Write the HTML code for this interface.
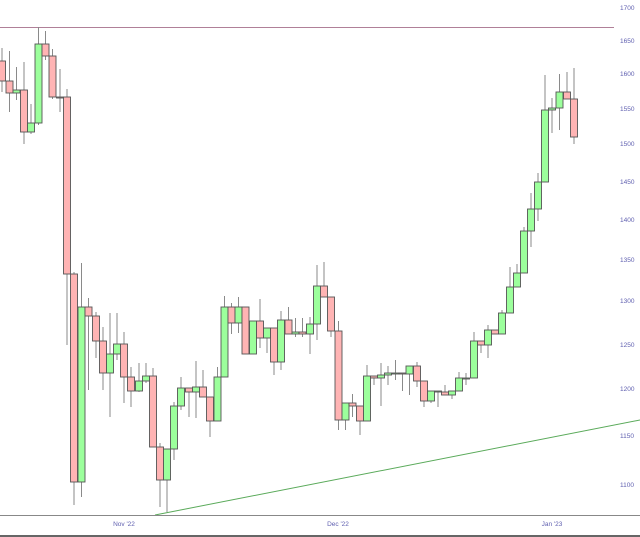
<!DOCTYPE html>
<html><head><meta charset="utf-8"><style>
html,body{margin:0;padding:0;background:#fff;}
svg{display:block;}
text{font-family:"Liberation Sans",sans-serif;font-size:6.5px;fill:#6060b0;}
</style></head><body>
<svg id="c" width="640" height="537" xmlns="http://www.w3.org/2000/svg">
<rect width="640" height="537" fill="#fff"/>
<line x1="0" y1="27.5" x2="614" y2="27.5" stroke="#b08098" stroke-width="1"/>
<g id="cs"></g>
<line x1="155" y1="515" x2="640" y2="420" stroke="#5aaa5a" stroke-width="1"/>
<line x1="0" y1="515.5" x2="640" y2="515.5" stroke="#888" stroke-width="1"/>
<line x1="0" y1="536" x2="640" y2="536" stroke="#333" stroke-width="1.5"/>
<text x="620" y="10">1700</text>
<text x="620" y="43">1650</text>
<text x="620" y="76">1600</text>
<text x="620" y="111">1550</text>
<text x="620" y="146">1500</text>
<text x="620" y="184">1450</text>
<text x="620" y="222">1400</text>
<text x="620" y="262">1350</text>
<text x="620" y="303">1300</text>
<text x="620" y="347">1250</text>
<text x="620" y="391">1200</text>
<text x="620" y="438">1150</text>
<text x="620" y="487">1100</text>
<text x="124" y="526" text-anchor="middle">Nov '22</text>
<text x="338" y="526" text-anchor="middle">Dec '22</text>
<text x="552" y="526" text-anchor="middle">Jan '23</text>
</svg>
<script>
var d=[
[2,61,81,48,92,'r'],[9.5,81,93,51,112,'r'],[16.5,90,93,67,100,'g'],[24,90,132,62,144,'r'],[31,123,132,104,134,'g'],
[38.5,44,123,27,125,'g'],[45.5,44,56,31,60,'r'],[52.5,56,97,49,99,'r'],[60,97,98,69,112,'r'],[67,97,274,89,345,'r'],
[74,274,482,272,505,'r'],[81.5,307,482,263,497,'g'],[88.5,307,316,298,390,'r'],[96,316,341,312,358,'r'],[103,341,373,327,390,'r'],
[110,354,373,313,417,'g'],[117,344,354,313,360,'g'],[124,344,377,332,403,'r'],[131,377,391,367,407,'r'],[139,381,391,363,392,'g'],
[146,376,381,363,383,'g'],[153,376,447,368,447,'r'],[160,447,480,443,507,'r'],[167,449,480,449,512,'g'],[174,406,449,402,460,'g'],
[181,388,406,377,410,'g'],[189,388,392,388,417,'r'],[196,387,392,361,418,'g'],[203,387,397,370,397,'r'],[210,397,421,397,437,'r'],
[217.5,377,421,367,421,'g'],[224.5,307,377,296,377,'g'],[231.5,307,323,303,334,'r'],[238.5,307,323,297,333,'g'],[245.5,307,354,307,354,'r'],
[253,321,354,321,354,'g'],[260,321,338,299,348,'r'],[267,328,338,328,353,'g'],[274,328,362,328,375,'r'],[281,320,362,311,370,'g'],
[288.5,320,334,307,334,'r'],[295.5,332,334,318,337,'g'],[302.5,332,334,318,337,'r'],[310,324,334,317,354,'g'],[317,286,324,265,340,'g'],
[324,286,297,262,297,'r'],[331,297,331,297,337,'r'],[338.5,331,420,321,430,'r'],[345.5,403,420,403,430,'g'],[352.5,403,406,394,417,'r'],
[360,406,421,406,435,'r'],[367,376,421,365,421,'g'],[374,376,378,376,385,'r'],[381,375,378,363,406,'g'],[388,373,375,366,385,'g'],
[395.5,373,374,360,380,'g'],[402.5,373,374,373,391,'r'],[409.5,366,374,366,395,'g'],[417,366,381,362,387,'r'],[424,381,401,381,407,'r'],
[431,391,401,391,403,'g'],[438,391,392,391,407,'g'],[445,392,395,385,395,'r'],[452,391,395,391,399,'g'],[459,378,391,372,391,'g'],
[466,378,379,373,385,'g'],[474,341,378,332,378,'g'],[481,341,345,341,353,'r'],[488,330,345,325,358,'g'],[495,330,334,330,334,'r'],
[502,313,334,310,334,'g'],[510,287,313,267,313,'g'],[517,273,287,264,287,'g'],[524,231,273,227,273,'g'],[531,209,231,193,247,'g'],
[538,182,209,173,221,'g'],[545,110,182,75,182,'g'],[552,108,110,98,133,'g'],[559.5,92,108,74,130,'g'],[567,92,99,72,99,'r'],
[574,99,137,68,144,'r']];
var s='';
d.forEach(function(c){var x=c[0],w=7;
s+='<line x1="'+x+'" y1="'+c[3]+'" x2="'+x+'" y2="'+c[4]+'" stroke="#8a8a8a" stroke-width="1"/>';
var h=Math.max(c[2]-c[1],1);
s+='<rect x="'+(x-w/2)+'" y="'+c[1]+'" width="'+w+'" height="'+h+'" fill="'+(c[5]=='g'?'#9cff9c':'#ffb4b4')+'" stroke="#555" stroke-width="0.9"/>';});
document.getElementById('cs').innerHTML=s;
</script>
</body></html>
